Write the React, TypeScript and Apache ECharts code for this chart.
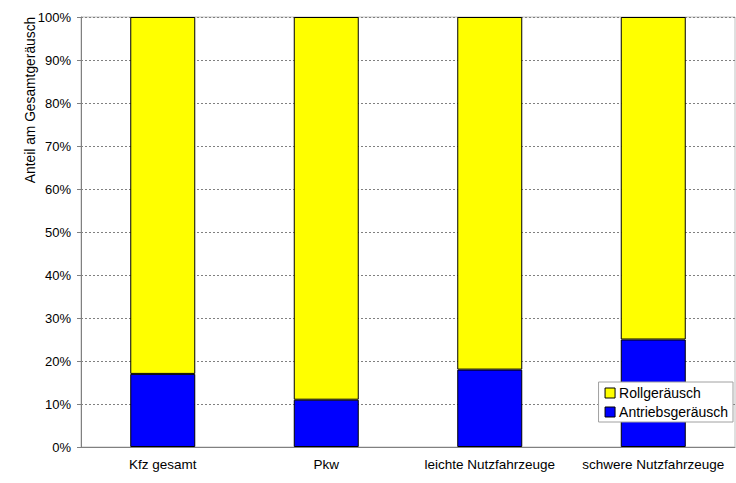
import React, { useEffect, useRef } from "react";
import * as echarts from "echarts";

const categories = ["Kfz gesamt", "Pkw", "leichte Nutzfahrzeuge", "schwere Nutzfahrzeuge"];
const antriebValues = [17, 11, 18, 25];
const rollValues = [83, 89, 82, 75];
const seriesNames = ["Antriebsgeräusch", "Rollgeräusch"];
const yAxisTitle = "Anteil am Gesamtgeräusch";

export default function App() {
  const ref = useRef<HTMLDivElement>(null);
  useEffect(() => {
    if (!ref.current) return;
    const chart = echarts.init(ref.current, undefined, { renderer: "svg" });
    const font = "'Liberation Sans', Arial, sans-serif";
    chart.setOption({
      animation: false,
      backgroundColor: "#ffffff",
      textStyle: { fontFamily: font },
      grid: {
        left: 81,
        right: 1,
        top: 17,
        bottom: 36,
        show: true,
        borderColor: "#c0c0c0",
        borderWidth: 1,
        backgroundColor: "transparent",
      },
      legend: {
        orient: "vertical",
        right: 3,
        top: 382,
        data: [seriesNames[1], seriesNames[0]],
        icon: "rect",
        itemWidth: 10,
        itemHeight: 10,
        itemGap: 5,
        padding: [4, 5, 3, 6],
        backgroundColor: "#ffffff",
        borderColor: "#a0a0a0",
        borderWidth: 1,
        textStyle: { fontFamily: font, fontSize: 14, color: "#000", padding: [0, 0, 0, -1] },
        itemStyle: { borderColor: "#000", borderWidth: 1 },
      },
      graphic: [
        {
          type: "text",
          x: 30,
          y: 100,
          rotation: Math.PI / 2,
          style: {
            text: yAxisTitle,
            fontFamily: font,
            fontSize: 13.8,
            fill: "#000",
            textAlign: "center",
            textVerticalAlign: "middle",
          },
        },
      ],
      xAxis: {
        type: "category",
        data: categories,
        axisLine: { lineStyle: { color: "#808080", width: 1 } },
        axisTick: { show: false },
        axisLabel: { color: "#000", fontSize: 13.5, fontFamily: font, margin: 10, interval: 0 },
      },
      yAxis: {
        type: "value",
        min: 0,
        max: 100,
        interval: 10,
        axisLine: { show: true, lineStyle: { color: "#808080", width: 1 } },
        axisTick: { show: true, length: 4, lineStyle: { color: "#808080" } },
        axisLabel: { color: "#000", fontSize: 13, fontFamily: font, margin: 10, formatter: "{value}%" },
        splitLine: { show: true, lineStyle: { color: "#808080", type: [2, 2], width: 1 } },
      },
      series: [
        {
          name: seriesNames[0],
          type: "bar",
          stack: "total",
          data: antriebValues,
          barWidth: 65,
          itemStyle: { color: "#0000ff", borderColor: "#000", borderWidth: 1 },
        },
        {
          name: seriesNames[1],
          type: "bar",
          stack: "total",
          data: rollValues,
          barWidth: 65,
          itemStyle: { color: "#ffff00", borderColor: "#000", borderWidth: 1 },
        },
      ],
    });
    return () => chart.dispose();
  }, []);
  return <div ref={ref} style={{ width: 736, height: 483, position: "absolute", left: 0, top: 0 }} />;
}
